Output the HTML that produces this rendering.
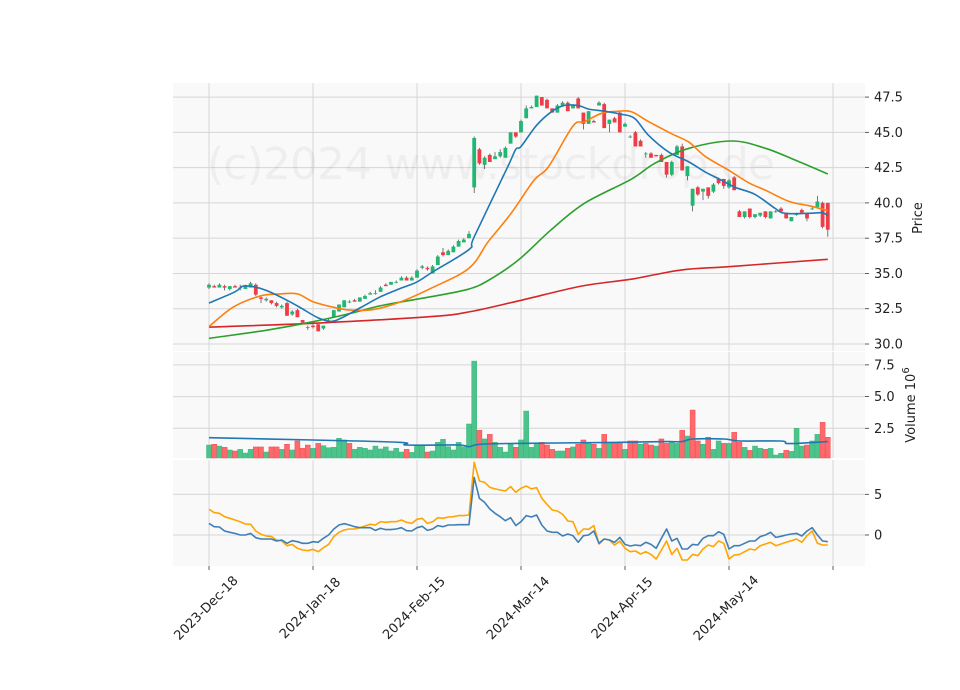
<!DOCTYPE html>
<html><head><meta charset="utf-8"><style>
html,body{margin:0;padding:0;background:#fff;}
svg{display:block;font-family:"DejaVu Sans","Liberation Sans",sans-serif;}
</style></head><body>
<svg id="chart" width="960" height="690" viewBox="0 0 960 690" xmlns="http://www.w3.org/2000/svg">
<rect width="960" height="690" fill="#fff"/>
<g id="panels"></g>
<text x="207" y="179" font-size="44" fill="#000" fill-opacity="0.045" textLength="568">(c)2024 www.stockdrop.de</text>
<g id="marks"></g>
<g id="axes"></g>
<text transform="translate(922,218) rotate(-90)" text-anchor="middle" font-size="13" fill="#222">Price</text>
<text transform="translate(915,405) rotate(-90)" text-anchor="middle" font-size="13" fill="#222">Volume  10<tspan dy="-6" font-size="10">6</tspan></text>
</svg>
<script>
const opens=[34.0,34.1,34.0,34.1,33.9,34.1,34.0,33.9,34.0,34.2,33.3,33.1,33.1,32.9,32.6,32.9,32.1,32.4,31.7,31.2,31.3,31.4,31.1,31.5,31.9,32.3,32.6,33.0,33.1,33.0,33.2,33.5,33.6,33.7,34.2,34.2,34.4,34.5,34.7,34.5,34.7,35.4,35.4,35.0,35.6,36.5,36.3,36.5,36.9,37.2,37.5,41.1,43.8,42.7,43.4,43.1,43.3,43.2,44.2,45.0,45.0,46.0,46.7,46.8,47.5,47.3,46.7,46.4,46.9,47.1,46.7,47.4,46.4,45.6,45.8,46.9,47.0,45.6,46.0,46.4,45.4,44.7,45.0,44.4,43.5,43.5,43.4,43.4,42.9,42.0,43.4,44.0,41.9,39.8,41.1,40.8,41.1,40.8,41.7,41.7,41.1,41.8,39.4,39.0,39.6,39.0,39.1,39.4,38.9,39.4,39.6,39.3,38.7,39.2,39.5,39.3,39.6,39.7,40.0,40.0];
const highs=[34.3,34.2,34.3,34.2,34.1,34.2,34.2,34.2,34.4,34.3,33.4,33.3,33.1,33.0,32.8,33.0,32.4,32.5,31.7,31.3,31.4,31.4,31.3,31.8,32.4,32.8,33.1,33.1,33.2,33.3,33.5,33.7,33.8,34.1,34.3,34.4,34.5,34.8,34.8,34.8,35.3,35.6,35.5,35.6,36.3,36.8,36.7,37.0,37.4,37.5,38.0,44.7,43.9,43.3,43.5,43.6,43.8,44.0,45.0,45.0,45.9,46.9,46.9,47.6,47.5,47.4,46.7,47.0,47.2,47.2,46.9,47.5,46.4,46.5,45.9,47.2,47.1,45.9,46.1,46.5,45.7,44.8,45.1,44.5,43.6,43.6,43.4,43.5,42.9,43.0,44.1,44.2,42.6,41.0,41.2,41.0,41.1,41.4,41.8,41.7,41.7,41.9,39.5,39.4,39.6,39.2,39.3,39.4,39.4,39.5,39.7,39.3,39.0,39.3,39.6,39.3,39.7,40.5,40.1,40.0];
const lows=[33.9,34.0,34.0,33.8,33.8,34.0,33.8,33.9,34.0,33.4,32.9,33.0,32.8,32.6,32.5,32.0,32.0,31.9,31.5,31.0,31.1,30.9,31.0,31.5,31.9,32.3,32.6,32.9,33.0,33.0,33.2,33.5,33.5,33.7,34.1,34.2,34.3,34.5,34.5,34.5,34.7,35.3,35.2,35.0,35.6,36.2,36.3,36.5,36.9,37.2,37.5,40.7,42.7,42.4,42.9,43.1,43.2,43.2,44.2,44.6,45.0,46.0,46.7,46.8,46.9,46.7,46.4,46.4,46.9,46.5,46.7,46.7,45.2,45.6,45.7,46.9,45.3,45.0,45.7,45.0,45.4,44.6,44.0,44.0,43.2,43.2,43.3,42.9,41.8,41.9,43.4,42.3,41.6,39.4,40.5,40.2,40.3,40.7,41.3,41.0,41.0,40.9,39.0,38.9,38.9,38.9,39.0,38.9,38.9,39.3,39.4,38.9,38.7,39.1,39.3,38.7,39.5,39.6,38.2,37.6];
const closes=[34.2,34.0,34.2,34.0,34.1,34.0,34.0,34.1,34.3,33.5,33.2,33.2,32.9,32.7,32.7,32.0,32.3,31.9,31.5,31.2,31.2,30.9,31.3,31.6,32.4,32.8,33.1,33.0,33.0,33.3,33.4,33.6,33.6,34.0,34.1,34.4,34.4,34.7,34.5,34.7,35.2,35.5,35.3,35.5,36.2,36.3,36.6,36.9,37.3,37.4,37.8,44.6,42.8,43.2,42.9,43.3,43.6,43.9,45.0,44.7,45.8,46.7,46.8,47.6,46.9,46.7,46.4,46.9,47.1,46.5,46.9,46.7,45.6,46.5,45.7,47.1,45.3,45.9,45.7,45.0,45.6,44.7,44.0,44.0,43.5,43.2,43.3,42.9,42.0,42.9,44.0,42.3,42.6,41.0,40.6,41.0,40.5,41.3,41.4,41.2,41.6,40.9,39.0,39.4,39.0,39.2,39.3,39.0,39.4,39.4,39.4,38.9,39.0,39.2,39.3,38.9,39.6,40.1,38.3,38.1];
const volumes=[1.18,1.24,1.10,1.0,0.79,0.71,0.84,0.55,0.84,1.03,1.03,0.63,1.03,1.03,0.84,1.24,0.79,1.5,0.92,1.18,0.92,1.31,1.13,0.97,1.0,1.71,1.58,1.31,0.84,1.0,0.92,0.79,1.10,0.87,1.03,0.71,0.92,0.63,0.84,0.6,1.18,1.18,0.63,0.71,1.39,1.63,1.05,0.79,1.39,1.05,2.84,7.8,2.34,1.66,2.02,1.39,1.0,0.63,1.24,1.0,1.58,3.86,1.0,1.31,1.39,1.18,0.84,0.71,0.71,0.92,1.03,1.24,1.58,1.31,1.24,0.92,2.02,1.39,1.39,1.39,0.84,1.5,1.5,1.24,1.31,1.18,1.10,1.66,1.31,1.39,1.31,2.34,1.89,3.94,1.5,1.24,1.79,0.84,1.5,1.31,1.31,2.18,1.39,1.0,0.76,1.10,0.92,0.84,0.92,0.39,0.53,0.76,0.68,2.5,1.10,1.18,1.5,2.02,2.97,1.79];
const volMaIdx=[0,20,37,38,48,50,52,59,78,88,91,93,99,102,110,111,113,119];
const volMaVal=[1.76,1.58,1.39,1.18,1.18,1.05,1.24,1.31,1.39,1.45,1.45,1.66,1.66,1.5,1.5,1.31,1.31,1.45];
const maBlueIdx=[0,5,6.5,8.5,11,15,17.7,21,23.5,25.5,29,33,37,40,43,50,51,57.5,59,60,63,66,68.3,71,73,76,79,81.8,84.5,88.4,92.3,95.4,98.6,101.2,105,108.9,110.8,115.4,118,119];
const maBlueVal=[32.9,33.7,34.1,34.06,33.8,33.1,32.55,31.85,31.6,31.85,32.55,33.35,33.97,34.4,35.1,36.7,37.6,42.6,43.8,44.0,45.5,46.5,46.9,46.9,46.65,46.5,46.3,46.0,44.8,43.6,42.9,42.2,41.6,41.1,40.6,39.6,39.26,39.26,39.3,39.07];
const maOrangeIdx=[0,4.6,9.8,13.7,17,20,24,27.2,31.7,36.9,42.7,50,53.7,58.1,62.5,65.3,70,72.2,75.5,78.8,81.3,84.6,89,92.3,95.4,100,103.9,107,111.6,115.4,119];
const maOrangeVal=[31.23,32.6,33.4,33.55,33.55,33.0,32.6,32.4,32.45,33.0,33.95,35.37,37.25,39.26,41.6,42.57,45.45,45.75,46.35,46.5,46.45,45.75,44.9,44.3,43.3,42.3,41.4,40.9,40.1,39.8,39.45];
const maGreenIdx=[0,11.4,20,27.2,33.6,42.7,49.8,53.7,59.5,65.8,72.2,81.3,85.7,92.3,100.6,107,112.7,119];
const maGreenVal=[30.4,31.0,31.58,32.17,32.76,33.35,33.88,34.5,35.95,38.1,39.97,41.7,42.8,43.87,44.39,43.87,43.04,42.05];
const maRedIdx=[0,20,42.7,50.4,60,71.6,81.3,90.9,100.6,119];
const maRedVal=[31.2,31.47,31.94,32.3,33.1,34.1,34.6,35.25,35.5,36.0];
const indBlue=[1.43,1.02,0.98,0.49,0.33,0.2,0,0,0.2,-0.33,-0.49,-0.49,-0.49,-0.74,-0.61,-1.02,-0.7,-0.82,-1.02,-1.02,-0.82,-0.9,-0.41,0,0.74,1.23,1.39,1.23,1.02,0.9,0.9,0.9,0.57,0.82,0.66,0.66,0.74,0.9,0.53,0.49,0.9,1.07,0.57,0.74,1.15,1.02,1.23,1.23,1.27,1.27,1.27,7.05,4.5,4.0,3.2,2.66,2.25,1.76,2.13,1.15,1.64,2.38,2.21,2.46,1.23,0.49,0.33,0.33,-0.12,0.12,-0.08,-0.9,-0.08,0,0.49,-1.02,-0.49,-0.61,-0.9,-0.29,-1.15,-1.35,-1.23,-1.31,-0.9,-1.15,-1.64,-0.41,0.74,-0.74,-0.41,-1.72,-1.72,-1.15,-1.23,-0.41,-0.08,-0.08,0.41,0.08,-1.72,-1.31,-1.31,-1.02,-0.74,-0.74,-0.2,0,0.33,-0.29,-0.16,0,0.12,0.2,-0.12,0.49,0.9,0,-0.74,-0.82];
const indOrange=[3.16,2.75,2.66,2.25,2.05,1.84,1.64,1.35,1.31,0.49,0.08,-0.12,-0.2,-0.61,-0.74,-1.31,-1.15,-1.64,-1.84,-1.93,-1.76,-2.05,-1.56,-1.15,-0.2,0.33,0.61,0.74,0.74,0.9,1.11,1.31,1.23,1.64,1.56,1.64,1.64,1.84,1.56,1.43,1.93,2.05,1.43,1.64,2.13,2.05,2.21,2.25,2.38,2.38,2.46,8.93,6.64,6.48,5.86,5.66,5.53,5.41,5.94,5.25,5.74,6.02,5.66,5.82,4.51,3.77,3.07,2.95,2.54,1.72,1.64,0.08,0.74,0.7,1.15,-1.11,-0.49,-0.61,-1.23,-0.74,-1.64,-2.05,-1.97,-2.34,-2.05,-2.38,-2.95,-1.84,-0.74,-2.38,-1.64,-3.07,-3.07,-2.38,-2.54,-1.72,-1.23,-1.43,-0.74,-1.02,-2.95,-2.46,-2.38,-2.05,-1.72,-1.84,-1.31,-1.1,-0.9,-1.31,-1.1,-0.9,-0.7,-0.49,-0.9,-0.08,0.49,-1.02,-1.23,-1.23];
const priceTicks=[30.0,32.5,35.0,37.5,40.0,42.5,45.0,47.5];
const volTicks=[2.5,5.0,7.5];
const indTicks=[0,5];
const dateTickIdx=[0,20,40,60,80,100,120];
const dateTickLabels=["2023-Dec-18","2024-Jan-18","2024-Feb-15","2024-Mar-14","2024-Apr-15","2024-May-14",""];

const NS="http://www.w3.org/2000/svg";
const X0=173,X1=865;
const P={top:83,bot:351},V={top:352,bot:458},I={top:460,bot:566};
const xs=i=>209+i*5.2;
const py=p=>344-(p-30)*14.11;
const vy=v=>460-v*12.68;
const iy=v=>535-v*8.14;
function el(tag,attrs,parent){const e=document.createElementNS(NS,tag);for(const k in attrs)e.setAttribute(k,attrs[k]);parent.appendChild(e);return e;}
const panels=document.getElementById('panels'),marks=document.getElementById('marks'),axes=document.getElementById('axes');
[[P,'price-panel'],[V,'volume-panel'],[I,'indicator-panel']].forEach(([r,n])=>{
  const b=el('rect',{x:X0,y:r.top,width:X1-X0,height:r.bot-r.top,fill:'#f9f9f9'},panels);
  
  
  dateTickIdx.forEach(t=>{const g=el('line',{x1:xs(t),x2:xs(t),y1:r.top,y2:r.bot,stroke:'#d6d6d6','stroke-width':1},panels);
    
    });
});
function hgrid(ticks,f,name,fmt){ticks.forEach(t=>{const y=f(t);
  const g=el('line',{x1:X0,x2:X1,y1:y,y2:y,stroke:'#d6d6d6','stroke-width':1},panels);
  
  
  el('line',{x1:X1,x2:X1+4,y1:y,y2:y,stroke:'#333','stroke-width':0.8},axes);
  const tx=el('text',{x:X1+9,y:y+4.5,'font-size':13,fill:'#222'},axes);tx.textContent=fmt(t);
  
  
});}
hgrid(priceTicks,py,'price',t=>t.toFixed(1));
hgrid(volTicks,vy,'volume',t=>t.toFixed(1));
hgrid(indTicks,iy,'indicator',t=>String(t));
dateTickIdx.forEach((t,k)=>{const x=xs(t);
  el('line',{x1:x,x2:x,y1:I.bot,y2:I.bot+4,stroke:'#333','stroke-width':0.8},axes);
  if(dateTickLabels[k]){const tx=el('text',{transform:`translate(${x},${611}) rotate(-45)`,'text-anchor':'middle','font-size':13,fill:'#222'},axes);
  tx.textContent=dateTickLabels[k];
  
  }
});
const GREEN='#22b573',RED='#f03c47';
closes.forEach((c,i)=>{const o=opens[i],x=xs(i),up=c>=o,col=up?GREEN:RED;
  const g=el('g',{},marks);
  
  
  el('line',{x1:x,x2:x,y1:py(highs[i]),y2:py(lows[i]),stroke:'#555','stroke-width':0.8},g);
  const t=py(Math.max(o,c)),b=py(Math.min(o,c));
  el('rect',{x:x-1.9,y:t,width:3.8,height:Math.max(b-t,0.8),fill:col},g);
});
volumes.forEach((v,i)=>{const up=i===0||closes[i]>=closes[i-1];
  const top=Math.max(vy(v),V.top);
  const r=el('rect',{x:xs(i)-2.5,y:top,width:5,height:V.bot-top,fill:up?'#4cc38a':'#fd6a6c',stroke:up?'#3db57c':'#f5474f','stroke-width':0.5},marks);
  
  
});
function smoothPath(pts){let d='M'+pts[0][0].toFixed(1)+','+pts[0][1].toFixed(1);
  for(let k=0;k<pts.length-1;k++){const p0=pts[Math.max(k-1,0)],p1=pts[k],p2=pts[k+1],p3=pts[Math.min(k+2,pts.length-1)];
    const c1=[p1[0]+(p2[0]-p0[0])/6,p1[1]+(p2[1]-p0[1])/6],c2=[p2[0]-(p3[0]-p1[0])/6,p2[1]-(p3[1]-p1[1])/6];
    d+=` C${c1[0].toFixed(1)},${c1[1].toFixed(1)} ${c2[0].toFixed(1)},${c2[1].toFixed(1)} ${p2[0].toFixed(1)},${p2[1].toFixed(1)}`;}
  return d;}
function line(idx,vals,f,color,w,name,smooth){const pts=vals.map((v,k)=>[xs(idx?idx[k]:k),f(v)]);
  const d=smooth?smoothPath(pts):'M'+pts.map(p=>p[0].toFixed(1)+','+p[1].toFixed(1)).join(' L');
  const p=el('path',{d:d,fill:'none',stroke:color,'stroke-width':w,'stroke-linejoin':'round'},marks);
  
  }
line(maRedIdx,maRedVal,py,'#d62728',1.6,'ma-red-line',true);
line(maGreenIdx,maGreenVal,py,'#2ca02c',1.6,'ma-green-line',true);
line(maOrangeIdx,maOrangeVal,py,'#ff7f0e',1.6,'ma-orange-line',true);
line(maBlueIdx,maBlueVal,py,'#1f77b4',1.6,'ma-blue-line',true);
line(volMaIdx,volMaVal,vy,'#1f77b4',1.6,'volume-ma-line',true);
line(null,indOrange,iy,'#ffa500',1.6,'indicator-orange-line',false);
line(null,indBlue,iy,'#3f7fb5',1.6,'indicator-blue-line',false);
</script>
</body></html>
